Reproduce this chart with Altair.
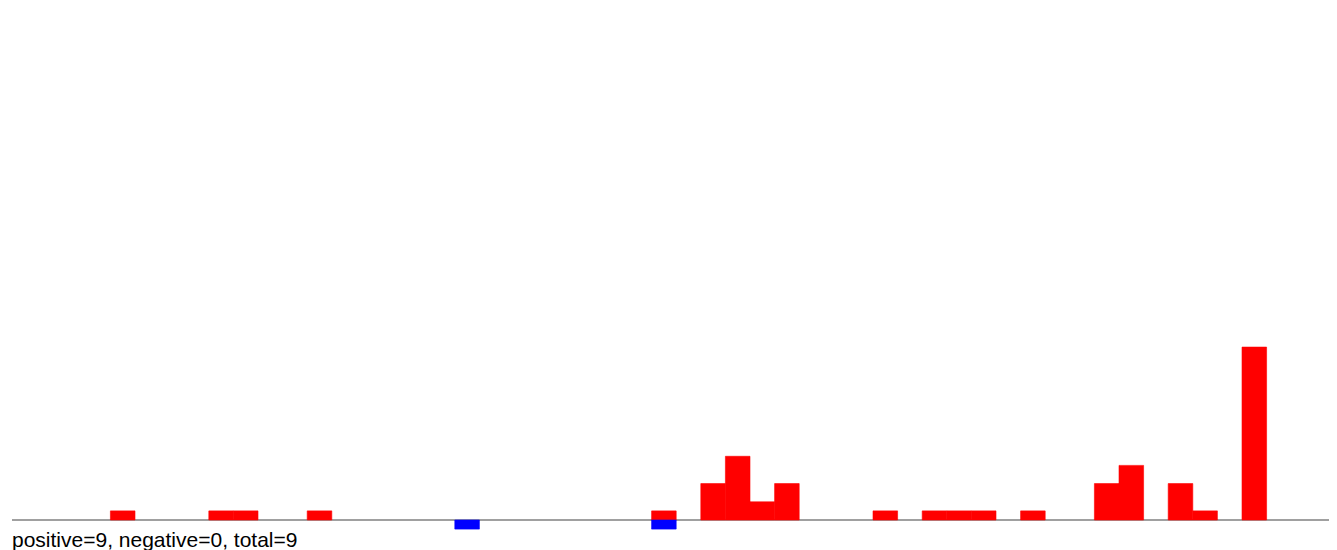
import altair as alt
import pandas as pd

# slot index of each bar and its value (units)
pos_slots = [4, 8, 9, 12, 26, 28, 29, 30, 31, 35, 37, 38, 39, 41, 44, 45, 47, 48, 50]
pos_values = [1, 1, 1, 1, 1, 4, 7, 2, 4, 1, 1, 1, 1, 1, 4, 6, 4, 1, 19]
neg_slots = [18, 26]
neg_values = [-1, -1]
summary = ["positive=9, negative=0, total=9"]

PLOT_W = 1317
X_MAX = PLOT_W / 24.6

rows = []
for s, v in zip(pos_slots, pos_values):
    rows.append({"slot": s, "slot_end": s + 1, "value": v, "sign": "positive"})
for s, v in zip(neg_slots, neg_values):
    rows.append({"slot": s, "slot_end": s + 1, "value": v, "sign": "negative"})
df = pd.DataFrame(rows)

xscale = alt.Scale(domain=[0, X_MAX], nice=False, zero=False)
yscale = alt.Scale(domain=[-1.1, 56.26], nice=False, zero=False)
cscale = alt.Scale(domain=["positive", "negative"], range=["#ff0000", "#0000ff"])

base_line = alt.Chart(pd.DataFrame({"a": [0]})).mark_rule(
    color="#a0a0a0", strokeWidth=2
).encode(
    x=alt.datum(0, scale=xscale, axis=None),
    x2=alt.datum(X_MAX),
    y=alt.datum(0, scale=yscale, axis=None),
)

bars = alt.Chart(df).mark_rect(strokeWidth=0.6).encode(
    x=alt.X("slot:Q", scale=xscale, axis=None),
    x2="slot_end:Q",
    y=alt.Y("value:Q", scale=yscale, axis=None),
    y2=alt.datum(0),
    color=alt.Color("sign:N", scale=cscale, legend=None),
    stroke=alt.Stroke("sign:N", scale=cscale, legend=None),
)

label = alt.Chart(pd.DataFrame({"t": summary})).mark_text(
    align="left", baseline="alphabetic", fontSize=21, font="Liberation Sans", color="#000000"
).encode(
    x=alt.value(0),
    y=alt.value(538.5),
    text="t:N",
)

chart = alt.layer(base_line, bars, label).properties(
    width=PLOT_W,
    height=522,
    autosize=alt.AutoSizeParams(type="none"),
    padding={"left": 4, "top": 0, "right": 0, "bottom": 20},
).configure_view(stroke=None)

chart.save("out.html", embed_options={"renderer": "svg", "actions": False})
